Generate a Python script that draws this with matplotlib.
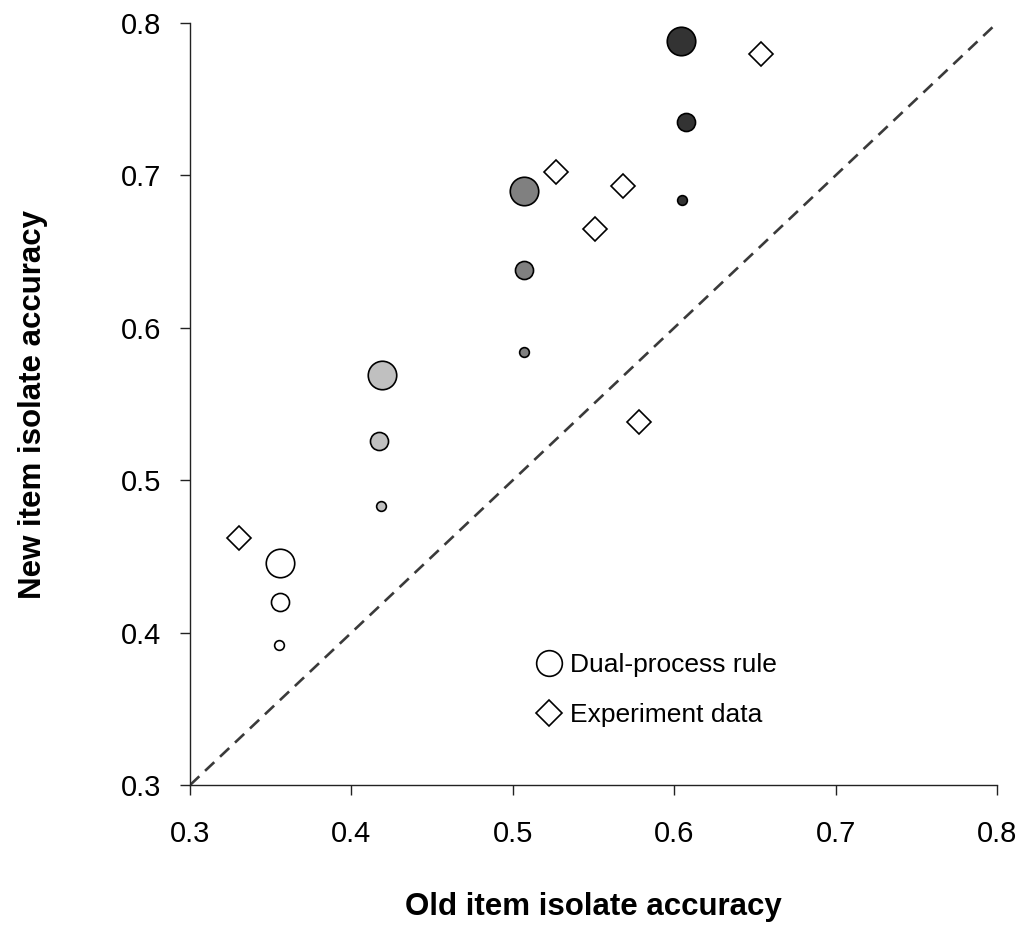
import matplotlib.pyplot as plt
from matplotlib.lines import Line2D

plt.rcParams['font.family'] = ['Liberation Sans', 'DejaVu Sans']

# modelo dual-process: 4 grupos (color) x 3 tamanos
modelo_x = [0.356, 0.356, 0.355,
            0.419, 0.417, 0.418,
            0.507, 0.507, 0.507,
            0.604, 0.607, 0.605]
modelo_y = [0.446, 0.420, 0.392,
            0.569, 0.526, 0.483,
            0.690, 0.638, 0.584,
            0.788, 0.735, 0.684]
grupo_colores = ['#ffffff', '#c0c0c0', '#808080', '#333333']
tamanos = [20.5, 13, 7]  # markersize en puntos: grande, mediano, pequeno

# datos del experimento
exp_x = [0.330, 0.527, 0.551, 0.568, 0.578, 0.654]
exp_y = [0.462, 0.702, 0.665, 0.693, 0.538, 0.780]

fig = plt.figure(figsize=(10.22, 9.4), dpi=100)
ax = fig.add_axes([0.186, 0.1649, 0.7895, 0.8106])

# diagonal y = x
ax.plot([0.3, 0.8], [0.3, 0.8], color='#3a3a3a', lw=1.9, dashes=(4.8, 3), zorder=1)

for i in range(len(modelo_x)):
    color = grupo_colores[i // 3]
    ms = tamanos[i % 3]
    ax.plot(modelo_x[i], modelo_y[i], 'o', ms=ms, mfc=color, mec='black', mew=1.2,
            zorder=3, clip_on=False)

ax.plot(exp_x, exp_y, 'D', ls='none', ms=12, mfc='white', mec='black', mew=1.2,
        zorder=3, clip_on=False)

ax.set_xlim(0.3, 0.8)
ax.set_ylim(0.3, 0.8)
ticks = [0.3, 0.4, 0.5, 0.6, 0.7, 0.8]
ax.set_xticks(ticks)
ax.set_yticks(ticks)
ax.set_xticklabels(['%.1f' % t for t in ticks])
ax.set_yticklabels(['%.1f' % t for t in ticks])

for lado in ['top', 'right']:
    ax.spines[lado].set_visible(False)
for lado in ['left', 'bottom']:
    ax.spines[lado].set_linewidth(1.0)
    ax.spines[lado].set_color('#222222')

ax.tick_params(axis='x', direction='out', length=7, width=1, pad=18, labelsize=21, color='#222222')
ax.tick_params(axis='y', direction='out', length=7, width=1, pad=14, labelsize=21, color='#222222')

ax.set_xlabel('Old item isolate accuracy', fontsize=22.5, fontweight='bold')
ax.set_ylabel('New item isolate accuracy', fontsize=22.5, fontweight='bold')
ax.xaxis.set_label_coords(0.5, -0.14)
ax.yaxis.set_label_coords(-0.176, 0.5)

handles = [Line2D([], [], marker='o', ls='none', ms=18.5, mfc='white', mec='black', mew=1.2),
           Line2D([], [], marker='D', ls='none', ms=13.5, mfc='white', mec='black', mew=1.2)]
ax.legend(handles, ['Dual-process rule', 'Experiment data'], loc='upper left',
          bbox_to_anchor=(0.399, 0.2045), frameon=False, fontsize=19,
          handlelength=1, handletextpad=0.3, labelspacing=1.0)

plt.savefig('out.png', dpi=100)
